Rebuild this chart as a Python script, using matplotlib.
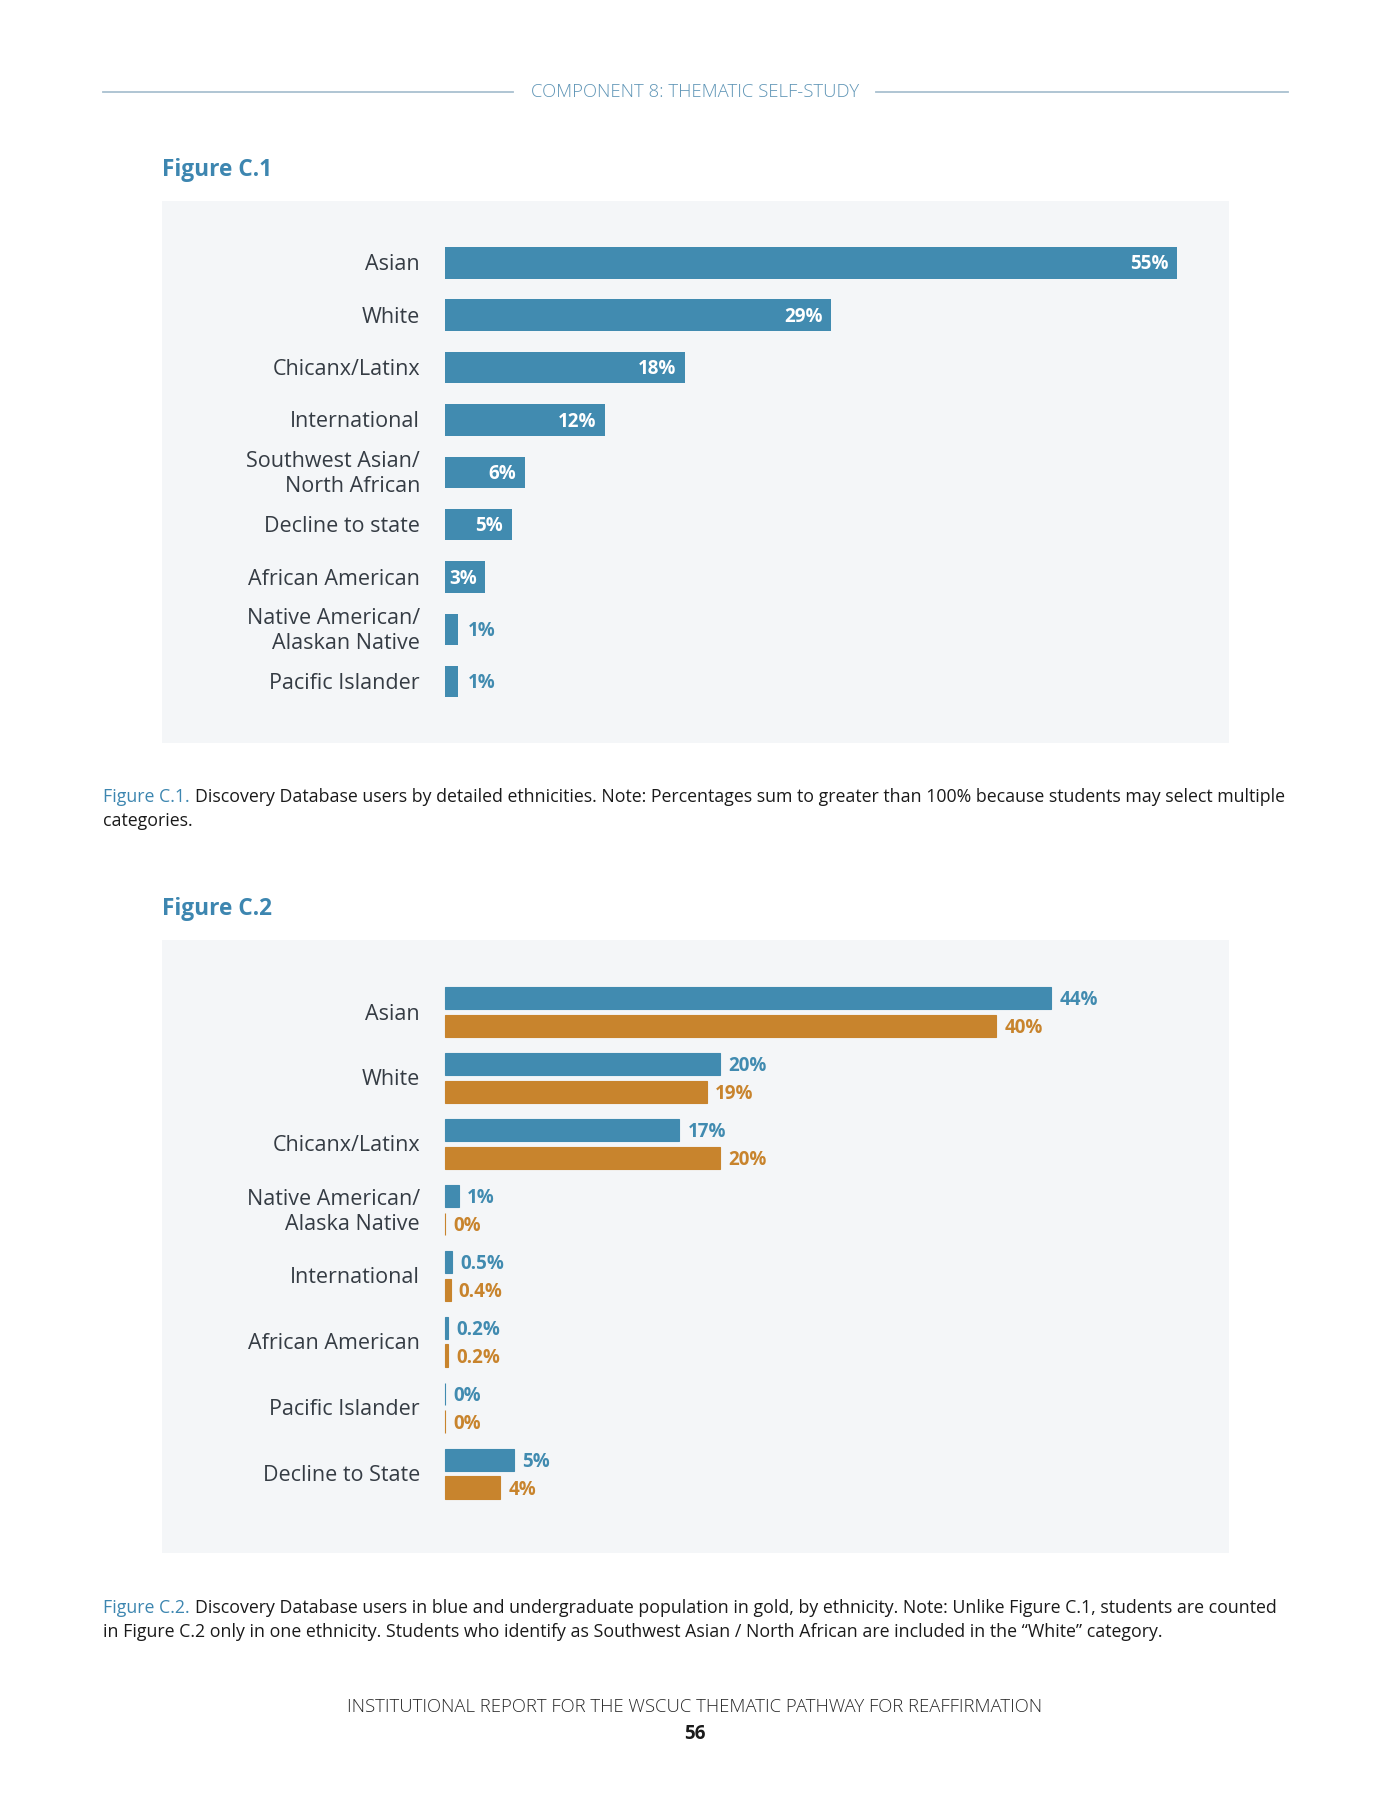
import numpy as np
import matplotlib.pyplot as plt

plt.rcParams["font.family"] = ["Open Sans", "DejaVu Sans"]

# Figure C.1 data
c1_labels = ["Asian", "White", "Chicanx/Latinx", "International",
             "Southwest Asian/\nNorth African", "Decline to state",
             "African American", "Native American/\nAlaskan Native",
             "Pacific Islander"]
c1_values = [55, 29, 18, 12, 6, 5, 3, 1, 1]

# Figure C.2 data
c2_labels = ["Asian", "White", "Chicanx/Latinx",
             "Native American/\nAlaska Native", "International",
             "African American", "Pacific Islander", "Decline to State"]
c2_users = [44, 20, 17, 1, 0.5, 0.2, 0, 5]
c2_undergrad = [40, 19, 20, 0, 0.4, 0.2, 0, 4]

BLUE = "#418bb0"
GOLD = "#c8842d"
TEXT = "#353c44"
TITLE = "#3d86b0"
PANEL = "#f4f6f8"

W, H = 1391, 1800
fig = plt.figure(figsize=(W / 100, H / 100), dpi=100)
fig.patch.set_facecolor("white")


def px_axes(x0, y0, x1, y1):
    # pixel box (top-left origin) -> figure axes
    return fig.add_axes([x0 / W, 1 - y1 / H, (x1 - x0) / W, (y1 - y0) / H])


def fmt(v):
    return f"{v:g}%"


# page overlay axes for text and lines
page = fig.add_axes([0, 0, 1, 1])
page.set_xlim(0, W)
page.set_ylim(H, 0)
page.axis("off")

# header
page.plot([103, 513], [92, 92], color="#a9c0d0", lw=1.3)
page.plot([876, 1288], [92, 92], color="#a9c0d0", lw=1.3)
page.text(695, 92, "COMPONENT 8: THEMATIC SELF-STUDY", ha="center", va="center",
          fontsize=13.3, color="#5f95b6", fontweight="light")

# titles
page.text(162, 170, "Figure C.1", ha="left", va="center", fontsize=16.3,
          fontweight="bold", color=TITLE)
page.text(162, 909, "Figure C.2", ha="left", va="center", fontsize=16.3,
          fontweight="bold", color=TITLE)


def caption(y, head, rest1, line2):
    t1 = page.text(103, y, head, ha="left", va="baseline", fontsize=12.8, color=TITLE)
    page.annotate(rest1, xy=(1, 0), xycoords=t1, xytext=(4, 0), textcoords="offset points",
                  ha="left", va="bottom", fontsize=12.8, color="#1a1a1a")
    page.text(103, y + 24, line2, ha="left", va="baseline", fontsize=12.8, color="#1a1a1a")


caption(802, "Figure C.1.",
        "Discovery Database users by detailed ethnicities. Note: Percentages sum to greater than 100% because students may select multiple",
        "categories.")
caption(1613, "Figure C.2.",
        "Discovery Database users in blue and undergraduate population in gold, by ethnicity. Note: Unlike Figure C.1, students are counted",
        "in Figure C.2 only in one ethnicity. Students who identify as Southwest Asian / North African are included in the \u201cWhite\u201d category.")

# footer
page.text(695, 1707, "INSTITUTIONAL REPORT FOR THE WSCUC THEMATIC PATHWAY FOR REAFFIRMATION",
          ha="center", va="center", fontsize=13.3, color="#2a2a2a", fontweight="light")
page.text(695, 1734, "56", ha="center", va="center", fontsize=13.5, color="#1a1a1a",
          fontweight="bold")

# ---------- Figure C.1 ----------
ax1 = px_axes(162, 201, 1229, 743)
ax1.set_facecolor(PANEL)
s1 = 13.31
ax1.set_xlim(-(445 - 162) / s1, (1229 - 445) / s1)
y1 = np.arange(len(c1_labels))
ax1.set_ylim(len(c1_labels) - 1 + 1.17, -1.18)
ax1.barh(y1, c1_values, height=0.6, color=BLUE)
for yy, v, lab in zip(y1, c1_values, c1_labels):
    ax1.annotate(lab, xy=(0, yy), xytext=(-18, -1.5), textcoords="offset points",
                 ha="right", va="center", fontsize=15.5, color=TEXT, linespacing=1.25,
                 fontweight="medium")
    if v >= 3:
        ax1.annotate(fmt(v), xy=(v, yy), xytext=(-6, -1.2), textcoords="offset points",
                     ha="right", va="center", fontsize=13.5, fontweight="bold", color="white")
    else:
        ax1.annotate(fmt(v), xy=(v, yy), xytext=(7, -1.2), textcoords="offset points",
                     ha="left", va="center", fontsize=13.5, fontweight="bold", color=BLUE)
for sp in ax1.spines.values():
    sp.set_visible(False)
ax1.set_xticks([])
ax1.set_yticks([])

# ---------- Figure C.2 ----------
ax2 = px_axes(162, 940, 1229, 1553)
ax2.set_facecolor(PANEL)
s2 = 13.77
ax2.set_xlim(-(445 - 162) / s2, (1229 - 445) / s2)
y2 = np.arange(len(c2_labels))
ax2.set_ylim(len(c2_labels) - 1 + 1.2, -1.09)
off = 0.21
bh = 0.34
ax2.barh(y2 - off, c2_users, height=bh, color=BLUE, edgecolor=BLUE, linewidth=0.8)
ax2.barh(y2 + off, c2_undergrad, height=bh, color=GOLD, edgecolor=GOLD, linewidth=0.8)
for yy, a, b, lab in zip(y2, c2_users, c2_undergrad, c2_labels):
    ax2.annotate(lab, xy=(0, yy), xytext=(-18, -1.5), textcoords="offset points",
                 ha="right", va="center", fontsize=15.5, color=TEXT, linespacing=1.25,
                 fontweight="medium")
    ax2.annotate(fmt(a), xy=(a, yy - off), xytext=(6, -1.5), textcoords="offset points",
                 ha="left", va="center", fontsize=13.5, fontweight="bold", color=BLUE)
    ax2.annotate(fmt(b), xy=(b, yy + off), xytext=(6, -1.5), textcoords="offset points",
                 ha="left", va="center", fontsize=13.5, fontweight="bold", color=GOLD)
for sp in ax2.spines.values():
    sp.set_visible(False)
ax2.set_xticks([])
ax2.set_yticks([])

# keep page overlay on top without hiding panels
page.set_zorder(5)
page.patch.set_alpha(0)

fig.savefig("out.png", dpi=100, facecolor="white")
